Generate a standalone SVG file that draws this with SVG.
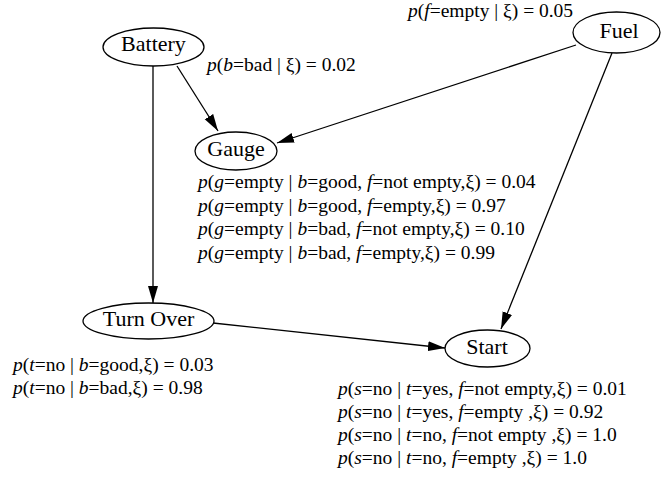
<svg xmlns="http://www.w3.org/2000/svg" width="663" height="477" viewBox="0 0 663 477">
<style>
.node ellipse{fill:#fff;stroke:#000;stroke-width:1.3}
.node text{font-family:"Liberation Serif","Times New Roman",serif;font-size:22px;text-anchor:middle;fill:#000}
.lbl{font-family:"Liberation Serif","Times New Roman",serif;font-size:19.5px;fill:#000}
.lbl tspan.i{font-style:italic}
.edges line{stroke:#000;stroke-width:1.3;marker-end:url(#ah)}
</style>
<defs>
<marker id="ah" markerUnits="userSpaceOnUse" markerWidth="18" markerHeight="11" refX="17" refY="5" orient="auto">
<path d="M0,0 L17,5 L0,10 z" fill="#000"/>
</marker>
</defs>
<rect width="663" height="477" fill="#fff"/>
<g class="edges" id="connectors">
<line x1="177" y1="66" x2="218" y2="131"/>
<line x1="153" y1="66" x2="153" y2="303"/>
<line x1="576" y1="45" x2="277" y2="143"/>
<line x1="612" y1="53" x2="501" y2="329"/>
<line x1="213" y1="323" x2="445" y2="348"/>
</g>
<g class="node" id="battery"><ellipse cx="153.5" cy="47" rx="50.5" ry="19"/><text x="153.5" y="51">Battery</text></g>
<g class="node" id="gauge"><ellipse cx="236" cy="151" rx="41" ry="19"/><text x="236" y="156">Gauge</text></g>
<g class="node" id="fuel"><ellipse cx="616.5" cy="32.5" rx="43.5" ry="20.5"/><text x="619" y="38">Fuel</text></g>
<g class="node" id="turnover"><ellipse cx="148.5" cy="321" rx="65.5" ry="18"/><text x="148.5" y="326">Turn Over</text></g>
<g class="node" id="start"><ellipse cx="487.5" cy="348.5" rx="42.5" ry="18.5"/><text x="487" y="354">Start</text></g>
<g id="labels">
<text class="lbl" x="207" y="71"><tspan class="i">p</tspan>(<tspan class="i">b</tspan>=bad | ξ) = 0.02</text>
<text class="lbl" x="408" y="17"><tspan class="i">p</tspan>(<tspan class="i">f</tspan>=empty | ξ) = 0.05</text>
<text class="lbl" x="198" y="188"><tspan class="i">p</tspan>(<tspan class="i">g</tspan>=empty | <tspan class="i">b</tspan>=good, <tspan class="i">f</tspan>=not empty,ξ) = 0.04</text>
<text class="lbl" x="198" y="212"><tspan class="i">p</tspan>(<tspan class="i">g</tspan>=empty | <tspan class="i">b</tspan>=good, <tspan class="i">f</tspan>=empty,ξ) = 0.97</text>
<text class="lbl" x="198" y="235"><tspan class="i">p</tspan>(<tspan class="i">g</tspan>=empty | <tspan class="i">b</tspan>=bad, <tspan class="i">f</tspan>=not empty,ξ) = 0.10</text>
<text class="lbl" x="198" y="259"><tspan class="i">p</tspan>(<tspan class="i">g</tspan>=empty | <tspan class="i">b</tspan>=bad, <tspan class="i">f</tspan>=empty,ξ) = 0.99</text>
<text class="lbl" x="13" y="371"><tspan class="i">p</tspan>(<tspan class="i">t</tspan>=no | <tspan class="i">b</tspan>=good,ξ) = 0.03</text>
<text class="lbl" x="13" y="394"><tspan class="i">p</tspan>(<tspan class="i">t</tspan>=no | <tspan class="i">b</tspan>=bad,ξ) = 0.98</text>
<text class="lbl" x="338" y="395"><tspan class="i">p</tspan>(<tspan class="i">s</tspan>=no | <tspan class="i">t</tspan>=yes, <tspan class="i">f</tspan>=not empty,ξ) = 0.01</text>
<text class="lbl" x="338" y="418"><tspan class="i">p</tspan>(<tspan class="i">s</tspan>=no | <tspan class="i">t</tspan>=yes, <tspan class="i">f</tspan>=empty ,ξ) = 0.92</text>
<text class="lbl" x="338" y="441"><tspan class="i">p</tspan>(<tspan class="i">s</tspan>=no | <tspan class="i">t</tspan>=no, <tspan class="i">f</tspan>=not empty ,ξ) = 1.0</text>
<text class="lbl" x="338" y="464"><tspan class="i">p</tspan>(<tspan class="i">s</tspan>=no | <tspan class="i">t</tspan>=no, <tspan class="i">f</tspan>=empty ,ξ) = 1.0</text>
</g>
</svg>
